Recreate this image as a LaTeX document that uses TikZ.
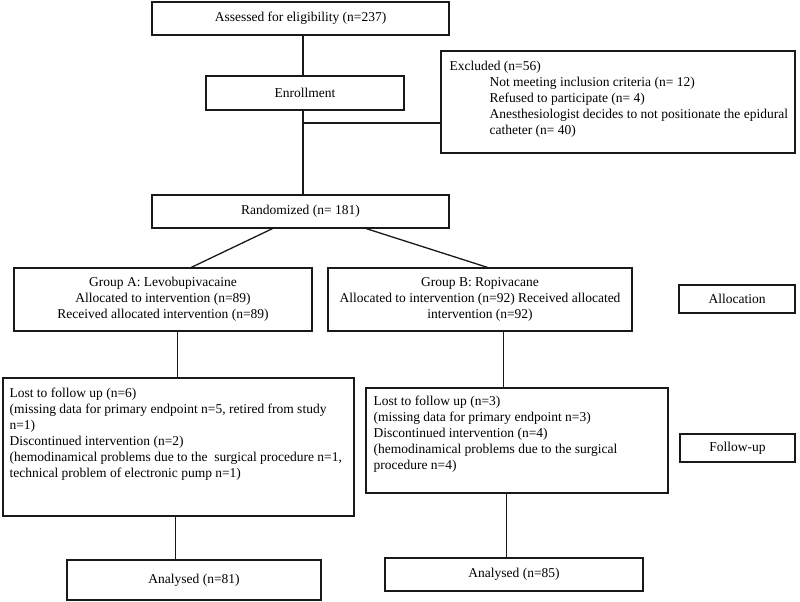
\documentclass[tikz,border=0pt]{standalone}
\usepackage{fontspec}
\setmainfont{Liberation Serif}
\begin{document}
\begin{tikzpicture}[x=1pt,y=-1pt,
  box/.style={draw=black!90,line width=1.3pt,rectangle,inner sep=0pt},
  ctext/.style={align=center,font=\fontsize{13.5}{16}\selectfont},
  ltext/.style={align=left,anchor=north west,inner sep=0pt,font=\fontsize{13.5}{16}\selectfont},
  link/.style={draw=black!90,line width=1.3pt}]
\useasboundingbox (0,0) rectangle (800,602);
% boxes: centre at ((x1+x2)/2,(y1+y2)/2)
\node[box,ctext,minimum width=297pt,minimum height=33pt] (assessed) at (300.5,18.5) {Assessed for eligibility (n=237)};
\node[box,ctext,minimum width=198pt,minimum height=34pt] (enroll) at (305,93) {Enrollment};
\node[box,minimum width=354pt,minimum height=102pt] (excl) at (618,102) {};
\node[ltext] (excltext) at ([shift={(9,11)}]excl.north west) {Excluded (n=56)\\
\hspace*{40pt}Not meeting inclusion criteria (n= 12)\\
\hspace*{40pt}Refused to participate (n= 4)\\
\hspace*{40pt}Anesthesiologist decides to not positionate the epidural\\
\hspace*{40pt}catheter (n= 40)};
\node[box,ctext,minimum width=297pt,minimum height=33pt] (random) at (300.5,211.5) {Randomized (n= 181)};
\node[box,ctext,minimum width=298pt,minimum height=63pt] (groupA) at (163,299.5) {Group A: Levobupivacaine\\Allocated to intervention (n=89)\\Received allocated intervention (n=89)};
\node[box,ctext,minimum width=304pt,minimum height=63pt] (groupB) at (480,299.5) {Group B: Ropivacane\\Allocated to intervention (n=92) Received allocated\\intervention (n=92)};
\node[box,ctext,minimum width=116pt,minimum height=28pt] (alloc) at (737,299) {Allocation};
\node[box,minimum width=351pt,minimum height=138pt] (lostA) at (178.5,447) {};
\node[ltext] (lostAtext) at ([shift={(7,10)}]lostA.north west) {Lost to follow up (n=6)\\
(missing data for primary endpoint n=5, retired from study\\
n=1)\\
Discontinued intervention (n=2)\\
(hemodinamical problems due to the\ \ surgical procedure n=1,\\
technical problem of electronic pump n=1)};
\node[box,minimum width=302pt,minimum height=105pt] (lostB) at (517,440.5) {};
\node[ltext] (lostBtext) at ([shift={(8,8)}]lostB.north west) {Lost to follow up (n=3)\\
(missing data for primary endpoint n=3)\\
Discontinued intervention (n=4)\\
(hemodinamical problems due to the surgical\\
procedure n=4)};
\node[box,ctext,minimum width=115pt,minimum height=28pt] (follow) at (737.5,448) {Follow-up};
\node[box,ctext,minimum width=254pt,minimum height=40pt] (anaA) at (194,580) {Analysed (n=81)};
\node[box,ctext,minimum width=258pt,minimum height=33pt] (anaB) at (514,574.5) {Analysed (n=85)};
% connectors
\coordinate (sp) at (303,123);
\draw[link] (assessed.south -| sp) -- (enroll.north -| sp);
\draw[link] (enroll.south -| sp) -- (random.north -| sp);
\draw[link] (sp) -- (sp -| excl.west);
\draw[link] ([xshift=121pt]random.south west) -- ([xshift=178pt]groupA.north west);
\draw[link] ([xshift=215pt]random.south west) -- ([xshift=160pt]groupB.north west);
\draw[link] ([xshift=164pt]groupA.south west) -- ([xshift=164pt]groupA.south west |- lostA.north);
\draw[link] ([xshift=176pt]groupB.south west) -- ([xshift=176pt]groupB.south west |- lostB.north);
\draw[link] ([xshift=173pt]lostA.south west) -- ([xshift=173pt]lostA.south west |- anaA.north);
\draw[link] ([xshift=141pt]lostB.south west) -- ([xshift=141pt]lostB.south west |- anaB.north);
\end{tikzpicture}
\end{document}
